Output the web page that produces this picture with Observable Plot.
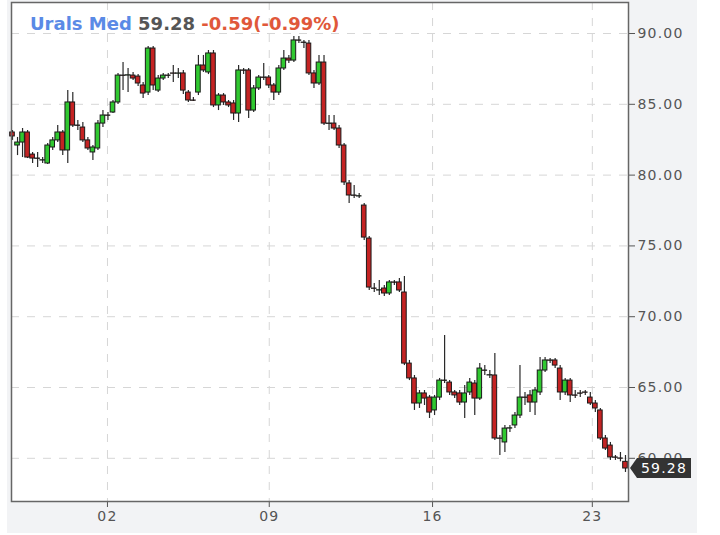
<!DOCTYPE html>
<html><head><meta charset="utf-8">
<script src="https://cdn.jsdelivr.net/npm/d3@7"></script>
<script src="https://cdn.jsdelivr.net/npm/@observablehq/plot@0.6"></script>
<style>
html,body{margin:0;padding:0;background:#fff;}
#wrap{position:relative;width:720px;height:535px;overflow:hidden;}
#chart{position:absolute;left:7px;top:0;}
#title{position:absolute;left:30px;top:14px;font:bold 18px "DejaVu Sans";line-height:20px;white-space:nowrap;}
</style></head><body>
<div id="wrap"><div id="chart"></div><div id="title"></div></div>
<script>
const titleParts = [["Urals Med", "#5a8ae6"], ["59.28", "#555555"], ["-0.59(-0.99%)", "#e0583a"]];
const lastPrice = 59.28;
const tickLabels = ["02", "09", "16", "23"];
const tickIdx = [18.9, 51.1, 83.6, 115.4];
const yTicks = [60, 65, 70, 75, 80, 85, 90];

const open = [
83.01, 82.09, 82.30, 83.01, 81.45, 81.17, 81.03, 80.82, 81.95, 82.45,
83.01, 81.74, 85.13, 83.50, 83.36, 82.45, 81.60, 81.88, 83.64, 84.21,
84.42, 85.13, 87.03, 87.03, 87.03, 86.96, 86.33, 85.83, 88.94, 85.97,
86.82, 87.03, 87.18, 87.16, 87.18, 85.83, 85.27, 85.83, 87.74, 87.25,
88.59, 84.92, 85.62, 85.13, 85.06, 84.35, 87.39, 87.39, 84.56, 86.12,
86.89, 86.89, 86.33, 85.83, 87.53, 88.23, 88.09, 89.51, 89.36, 89.29,
87.18, 86.47, 87.95, 83.64, 83.64, 83.29, 82.09, 79.41, 78.56, 78.49,
77.85, 75.52, 71.99, 71.85, 71.99, 71.64, 72.42, 72.42, 71.71, 66.69,
65.64, 63.87, 64.58, 64.29, 63.38, 64.29, 65.49, 65.35, 64.65, 64.58,
63.94, 64.65, 65.28, 64.22, 66.20, 65.85, 65.85, 61.40, 61.12, 62.10,
62.32, 63.02, 64.29, 64.44, 63.94, 64.65, 66.20, 66.91, 66.91, 66.34,
64.65, 65.49, 64.44, 64.58, 64.65, 64.29, 63.87, 63.38, 61.40, 60.90,
60.06, 59.99, 59.75];
const close = [
82.73, 82.30, 83.01, 81.24, 81.17, 81.15, 81.05, 82.09, 82.45, 83.01,
81.74, 85.13, 83.50, 83.48, 82.45, 81.88, 81.95, 83.64, 84.21, 84.19,
85.13, 87.03, 87.01, 87.05, 86.82, 86.47, 85.76, 88.94, 86.33, 86.82,
87.03, 87.01, 87.16, 87.18, 85.97, 85.27, 85.25, 87.74, 87.39, 88.59,
84.92, 85.62, 85.13, 84.92, 84.35, 87.39, 87.37, 84.56, 86.12, 86.89,
86.87, 86.33, 85.83, 87.53, 88.23, 88.09, 89.51, 89.49, 89.34, 87.18,
86.47, 87.95, 83.64, 83.62, 83.29, 82.09, 79.48, 78.56, 78.54, 78.51,
75.59, 72.06, 71.97, 71.87, 71.64, 72.42, 72.40, 71.85, 66.69, 65.64,
63.87, 64.58, 64.22, 63.23, 64.29, 65.49, 65.47, 64.65, 64.44, 63.94,
64.58, 65.35, 64.22, 66.34, 66.18, 65.87, 61.40, 61.38, 62.10, 62.12,
63.02, 64.29, 64.27, 63.94, 64.79, 66.20, 66.91, 66.89, 66.55, 64.65,
65.49, 64.44, 64.42, 64.56, 64.63, 63.87, 63.52, 61.40, 60.69, 60.06,
60.04, 59.97, 59.28];
const high = [
83.15, 82.66, 83.29, 83.15, 81.60, 81.60, 81.24, 82.23, 82.66, 83.50,
83.15, 85.97, 85.83, 83.86, 83.71, 82.66, 82.09, 83.86, 84.56, 84.42,
85.27, 87.18, 87.95, 87.53, 87.25, 87.10, 86.54, 89.08, 89.08, 87.03,
87.18, 87.18, 87.74, 87.53, 87.39, 85.97, 85.48, 88.45, 88.45, 88.80,
88.80, 85.76, 85.76, 85.27, 85.27, 87.74, 87.53, 87.53, 86.33, 87.03,
87.88, 87.03, 86.47, 87.74, 88.80, 88.45, 89.79, 89.79, 89.51, 89.51,
87.39, 88.45, 88.45, 84.21, 84.21, 83.50, 82.23, 79.62, 79.27, 78.70,
78.00, 75.66, 72.34, 72.56, 72.20, 72.56, 72.56, 72.70, 72.84, 66.91,
65.85, 64.79, 64.79, 64.44, 64.44, 65.64, 68.67, 65.49, 64.79, 64.79,
65.14, 65.64, 65.49, 66.69, 66.55, 66.20, 67.40, 61.61, 62.32, 62.32,
63.23, 66.55, 64.65, 64.79, 65.00, 67.12, 67.12, 67.05, 67.05, 66.55,
65.64, 65.64, 64.79, 64.79, 64.79, 64.65, 64.08, 63.52, 61.61, 61.12,
60.20, 60.41, 60.20];
const low = [
82.45, 81.38, 81.24, 81.17, 80.82, 80.54, 80.82, 80.75, 81.74, 82.30,
81.38, 80.82, 83.36, 83.15, 82.30, 81.74, 81.03, 81.74, 83.36, 83.86,
84.35, 84.99, 85.97, 85.83, 86.68, 86.26, 85.41, 85.62, 85.97, 85.83,
86.68, 86.82, 86.54, 86.82, 85.69, 85.13, 85.20, 85.62, 87.25, 87.10,
84.77, 84.56, 84.92, 84.77, 83.86, 83.71, 87.10, 84.00, 84.42, 85.97,
86.68, 86.12, 85.27, 85.62, 87.39, 87.88, 87.95, 89.29, 88.94, 87.03,
86.12, 86.33, 83.50, 83.15, 83.15, 81.88, 79.27, 78.00, 78.35, 78.35,
75.38, 71.85, 71.71, 71.50, 71.43, 71.50, 72.20, 71.71, 66.55, 65.49,
63.38, 63.52, 63.73, 62.81, 63.02, 64.08, 65.28, 64.44, 64.22, 63.73,
62.81, 64.44, 63.02, 64.08, 65.85, 65.64, 61.26, 60.20, 60.41, 61.82,
62.10, 62.81, 63.73, 63.23, 63.02, 64.44, 66.06, 66.69, 66.34, 64.08,
64.44, 63.94, 64.22, 64.29, 64.44, 63.73, 63.23, 61.26, 60.55, 59.85,
59.85, 59.75, 59.00];

const candles = close.map((c, i) => ({i, open: open[i], high: high[i], low: low[i], close: c, up: c >= open[i]}));
const tickMap = new Map(tickIdx.map((v, k) => [v, tickLabels[k]]));

const chart = Plot.plot({
  width: 690, height: 533,
  marginLeft: 4, marginRight: 69, marginTop: 2, marginBottom: 32,
  style: {background: "#f2f3f5", fontFamily: "DejaVu Sans", fontSize: "14px", color: "#555", letterSpacing: "1.2px", overflow: "visible"},
  x: {domain: [-0.2, 122.6], ticks: tickIdx, tickFormat: d => tickMap.get(d), label: null, tickSize: 6, tickPadding: 4},
  y: {domain: [56.95, 92.19], axis: "right", ticks: yTicks, tickFormat: d => d.toFixed(2), label: null, tickSize: 6, tickPadding: 3},
  marks: [
    Plot.frame({fill: "white"}),
    Plot.ruleY(yTicks, {stroke: "#d6d6d6", strokeDasharray: "8,8"}),
    Plot.ruleX(tickIdx, {stroke: "#d6d6d6", strokeDasharray: "8,8"}),
    Plot.ruleX(candles, {x: "i", y1: "low", y2: "high", stroke: "#2a2a2a", strokeWidth: 1.2}),
    Plot.rect(candles, {x1: d => d.i - 0.46, x2: d => d.i + 0.46, y1: "open", y2: "close",
      fill: d => d.up ? "#30c830" : "#c42323", stroke: "#1a1a1a", strokeWidth: 1}),
    Plot.frame({stroke: "#666", strokeWidth: 1.5})
  ]
});
document.getElementById("chart").appendChild(chart);

// last price tag
const ys = chart.scale("y").apply(lastPrice);
const xr = chart.scale("x").range[1];
const g = d3.select(chart).append("g");
g.append("path")
  .attr("d", `M${xr + 2},${ys} L${xr + 9},${ys - 10} L${xr + 63},${ys - 10} L${xr + 63},${ys + 10} L${xr + 9},${ys + 10} Z`)
  .attr("fill", "#333");
g.append("text")
  .attr("x", xr + 36).attr("y", ys).attr("dy", "0.36em")
  .attr("text-anchor", "middle").attr("fill", "white")
  .attr("font-size", 14).text(lastPrice.toFixed(2));

// title
const t = d3.select("#title");
titleParts.forEach(([txt, col], k) => {
  if (k) t.append("span").text(" ");
  t.append("span").style("color", col).text(txt);
});
</script>
</body></html>
